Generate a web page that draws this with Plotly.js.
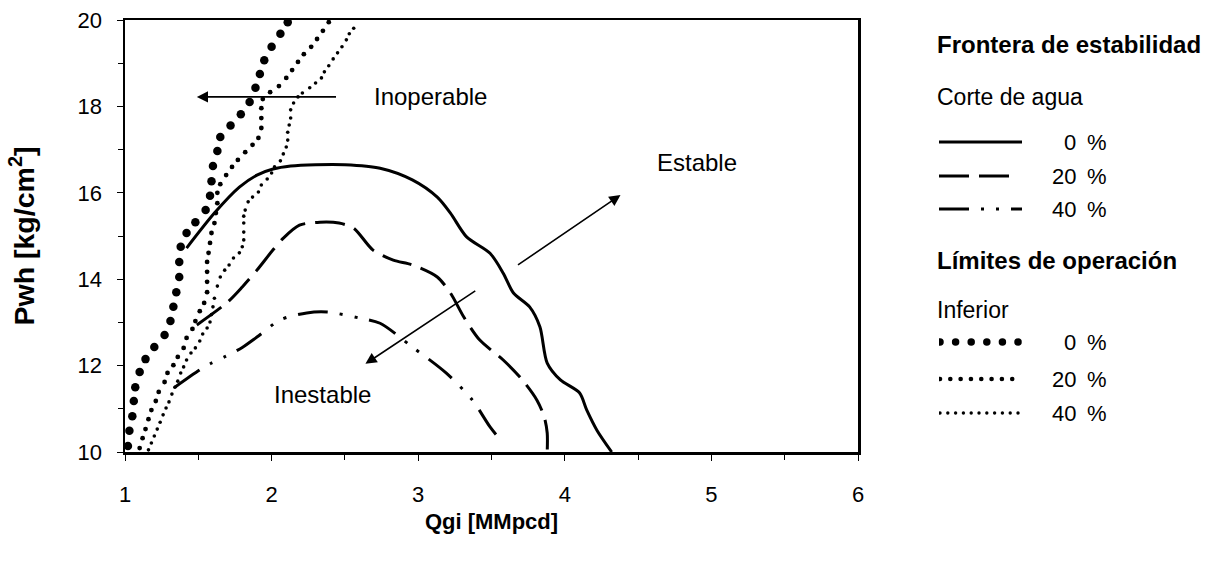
<!DOCTYPE html>
<html>
<head>
<meta charset="utf-8">
<script src="https://cdn.plot.ly/plotly-3.0.1.min.js"></script>
<style>html,body{margin:0;padding:0;background:#fff;}#chart{width:1211px;height:561px;}</style>
</head>
<body>
<div id="chart"></div>
<script>
// ---- Frontera de estabilidad (corte de agua) ----
const qgiFront0  = [1.42,1.61,1.78,1.90,2.01,2.13,2.30,2.50,2.74,2.96,3.13,3.22,3.33,3.49,3.58,3.65,3.76,3.83,3.88,3.97,4.10,4.15,4.22,4.32];
const pwhFront0  = [14.72,15.53,16.13,16.41,16.55,16.62,16.65,16.65,16.57,16.30,15.90,15.53,14.98,14.60,14.14,13.68,13.36,12.90,12.06,11.67,11.37,10.97,10.50,10.00];

const qgiFront20 = [1.49,1.70,1.80,1.90,2.01,2.08,2.19,2.33,2.46,2.56,2.69,2.83,2.96,3.13,3.22,3.31,3.42,3.58,3.71,3.81,3.86,3.88,3.88];
const pwhFront20 = [12.94,13.47,13.82,14.21,14.68,14.95,15.25,15.32,15.30,15.18,14.68,14.44,14.33,14.05,13.68,13.13,12.59,12.13,11.67,11.20,10.81,10.44,10.00];

const qgiFront40 = [1.34,1.51,1.59,1.69,1.80,1.90,2.06,2.24,2.38,2.60,2.74,2.96,3.19,3.37,3.49,3.58];
const pwhFront40 = [11.50,11.90,12.06,12.22,12.42,12.66,13.06,13.22,13.24,13.10,12.98,12.43,11.83,11.20,10.58,10.20];

// ---- Límites de operación: inferior ----
const qgiLow0 = [1.02,1.03,1.05,1.06,1.07,1.10,1.14,1.20,1.27,1.31,1.33,1.35,1.37,1.37,1.38,1.42,1.48,1.55,1.58,1.59,1.60,1.63,1.65,1.72,1.79,1.85,1.89,1.92,1.95,2.00,2.06,2.11];
const pwhLow0 = [10.14,10.49,10.83,11.18,11.50,11.85,12.15,12.43,12.71,13.03,13.36,13.70,14.05,14.40,14.75,15.07,15.32,15.60,15.93,16.27,16.62,16.97,17.29,17.56,17.82,18.10,18.43,18.75,19.07,19.38,19.68,19.95];

const qgiLow20 = [1.10,1.12,1.14,1.16,1.18,1.21,1.23,1.27,1.29,1.33,1.36,1.40,1.42,1.46,1.48,1.51,1.54,1.56,1.56,1.56,1.56,1.57,1.58,1.59,1.61,1.62,1.63,1.63,1.65,1.69,1.73,1.77,1.82,1.87,1.91,1.93,1.93,1.93,1.94,1.99,2.05,2.10,2.14,2.18,2.22,2.27,2.31,2.35,2.39];
const pwhLow20 = [10.09,10.32,10.53,10.76,10.97,11.18,11.39,11.62,11.83,12.01,12.20,12.41,12.64,12.85,13.03,13.26,13.45,13.70,13.94,14.17,14.40,14.61,14.84,15.07,15.30,15.53,15.76,16.00,16.20,16.41,16.60,16.76,16.94,17.11,17.27,17.50,17.73,17.96,18.17,18.33,18.47,18.66,18.84,19.03,19.21,19.38,19.56,19.75,19.95];

const qgiLow40 = [1.16,1.18,1.20,1.22,1.24,1.26,1.28,1.30,1.32,1.34,1.36,1.38,1.40,1.42,1.45,1.48,1.51,1.53,1.56,1.58,1.59,1.60,1.61,1.63,1.65,1.68,1.71,1.74,1.78,1.80,1.81,1.81,1.81,1.81,1.82,1.84,1.87,1.91,1.93,1.97,2.00,2.02,2.06,2.08,2.10,2.11,2.11,2.12,2.13,2.13,2.15,2.18,2.21,2.26,2.30,2.34,2.36,2.39,2.42,2.45,2.48,2.51,2.53,2.56];
const pwhLow40 = [10.05,10.21,10.37,10.53,10.69,10.86,11.02,11.16,11.34,11.50,11.64,11.83,11.97,12.13,12.29,12.41,12.57,12.73,12.87,13.01,13.18,13.36,13.56,13.84,14.05,14.21,14.33,14.49,14.61,14.75,14.91,15.09,15.30,15.46,15.60,15.79,15.90,16.02,16.18,16.32,16.46,16.60,16.74,16.90,17.06,17.22,17.40,17.57,17.73,17.92,18.08,18.22,18.31,18.43,18.54,18.66,18.80,18.94,19.10,19.24,19.38,19.54,19.68,19.81];

// ---- labels ----
const xTickVals = [1,2,3,4,5,6];
const yTickVals = [10,12,14,16,18,20];
const regionLabels = ['Inoperable','Estable','Inestable'];
const legendHeads = ['Frontera de estabilidad','Corte de agua','Límites de operación','Inferior'];
const cutLabels = ['0','20','40'];

// ---- layout helpers (pixel -> paper) ----
const W = 1211, H = 561, ML = 125, MR = 6, MT = 20, MB = 109;
const PW = W - ML - MR, PH = H - MT - MB;
const PX = px => (px - ML) / PW;
const PY = py => (H - MB - py) / PH;
const FONT = 'Liberation Sans, Arial, sans-serif';
const FS = 22;
const DASH = '30px,10px';
const DASHDOT = '30px,12px,3px,12px,3px,12px';

const traces = [
  {x:qgiFront0, y:pwhFront0, mode:'lines', line:{color:'black', width:3, shape:'spline', smoothing:0.8}},
  {x:qgiFront20, y:pwhFront20, mode:'lines', line:{color:'black', width:3, dash:DASH, shape:'spline', smoothing:0.8}},
  {x:qgiFront40, y:pwhFront40, mode:'lines', line:{color:'black', width:3, dash:DASHDOT, shape:'spline', smoothing:0.8}},
  {x:qgiLow0, y:pwhLow0, mode:'markers', marker:{color:'black', size:8.5}, cliponaxis:false},
  {x:qgiLow20, y:pwhLow20, mode:'markers', marker:{color:'black', size:4.8}, cliponaxis:false},
  {x:qgiLow40, y:pwhLow40, mode:'markers', marker:{color:'black', size:3.6}, cliponaxis:false}
];

// legend samples on a hidden helper axis (x: 0..1 over the sample width, y: pixel rows)
function row(n, span){ const a=[]; for(let i=0;i<n;i++) a.push(0.012 + span*i/(n-1)); return a; }
const rows = {s0:142, s20:176, s40:209, d0:342, d20:379, d40:413};
traces.push(
  {x:[0,1], y:[rows.s0,rows.s0], xaxis:'x2', yaxis:'y2', mode:'lines', line:{color:'black', width:3}},
  {x:[0,0.855], y:[rows.s20,rows.s20], xaxis:'x2', yaxis:'y2', mode:'lines', line:{color:'black', width:3, dash:DASH}},
  {x:[0,1], y:[rows.s40,rows.s40], xaxis:'x2', yaxis:'y2', mode:'lines', line:{color:'black', width:3, dash:DASHDOT}},
  {x:row(6,0.94), y:Array(6).fill(rows.d0), xaxis:'x2', yaxis:'y2', mode:'markers', marker:{color:'black', size:7.5}},
  {x:row(8,0.87), y:Array(8).fill(rows.d20), xaxis:'x2', yaxis:'y2', mode:'markers', marker:{color:'black', size:4.6}},
  {x:row(11,0.94), y:Array(11).fill(rows.d40), xaxis:'x2', yaxis:'y2', mode:'markers', marker:{color:'black', size:3.4}}
);

const annotations = [];
// arrows
function arrow(hx, hy, tx, ty){
  annotations.push({x:hx, y:hy, ax:tx, ay:ty, xref:'x', yref:'y', axref:'x', ayref:'y', text:' ',
    showarrow:true, arrowhead:2, arrowsize:1.4, arrowwidth:1.6, arrowcolor:'black', standoff:0, startstandoff:0});
}
arrow(1.49, 18.22, 2.47, 18.22);
arrow(4.38, 15.95, 3.65, 14.26);
arrow(2.64, 12.04, 3.42, 13.80);
// region texts
const RFS = 24;
annotations.push({x:2.685, y:18.22, xref:'x', yref:'y', text:regionLabels[0], showarrow:false, xanchor:'left', yanchor:'middle', font:{size:RFS}});
annotations.push({x:4.90, y:16.71, xref:'x', yref:'y', text:regionLabels[1], showarrow:false, xanchor:'center', yanchor:'middle', font:{size:RFS}});
annotations.push({x:2.344, y:11.32, xref:'x', yref:'y', text:regionLabels[2], showarrow:false, xanchor:'center', yanchor:'middle', font:{size:RFS}});
// legend texts
function ptext(px, py, txt, anchor, bold, size){
  annotations.push({x:PX(px), y:PY(py), xref:'paper', yref:'paper', text:txt, showarrow:false,
    xanchor:anchor, yanchor:'middle', font:{size:size, weight: bold ? 'bold' : 'normal'}});
}
ptext(935, 45, legendHeads[0], 'left', true, 24);
ptext(935, 97, legendHeads[1], 'left', false, 23);
ptext(935, 260, legendHeads[2], 'left', true, 24);
ptext(935, 310, legendHeads[3], 'left', false, 23);
[rows.s0, rows.s20, rows.s40].forEach((r,i)=>{ ptext(1078, r, cutLabels[i], 'right', false, FS); ptext(1085, r, '%', 'left', false, FS); });
[rows.d0, rows.d20, rows.d40].forEach((r,i)=>{ ptext(1078, r, cutLabels[i], 'right', false, FS); ptext(1085, r, '%', 'left', false, FS); });

const axisCommon = {showline:true, linewidth:2.5, linecolor:'black', mirror:true, showgrid:false, zeroline:false,
  ticks:'outside', ticklen:6, tickwidth:1, tickcolor:'black', fixedrange:true};

const layout = {
  width:W, height:H,
  margin:{l:ML, r:MR, t:MT, b:MB, pad:0},
  paper_bgcolor:'white', plot_bgcolor:'white',
  showlegend:false,
  font:{family:FONT, size:FS, color:'black'},
  xaxis:Object.assign({}, axisCommon, {domain:[0, PX(858)], range:[1,6], tickmode:'array', tickvals:xTickVals,
    ticklabelstandoff:15,
    minor:{dtick:0.5, tick0:1, ticks:'outside', ticklen:5, tickwidth:1, tickcolor:'black', showgrid:false},
    title:{text:'Qgi [MMpcd]', font:{size:22, weight:'bold'}, standoff:8}}),
  yaxis:Object.assign({}, axisCommon, {domain:[0,1], range:[10,20], tickmode:'array', tickvals:yTickVals,
    ticklabelstandoff:10,
    minor:{dtick:1, tick0:10, ticks:'outside', ticklen:5, tickwidth:1, tickcolor:'black', showgrid:false},
    title:{text:'Pwh [kg/cm<sup>2</sup>]', font:{size:28.5, weight:'bold'}, standoff:35}}),
  xaxis2:{domain:[PX(939), PX(1022)], range:[0,1], visible:false, anchor:'y2', fixedrange:true},
  yaxis2:{domain:[0,1], range:[H-MB, MT], visible:false, anchor:'x2', fixedrange:true},
  annotations:annotations
};

Plotly.newPlot('chart', traces, layout, {staticPlot:true, displayModeBar:false});
</script>
</body>
</html>
